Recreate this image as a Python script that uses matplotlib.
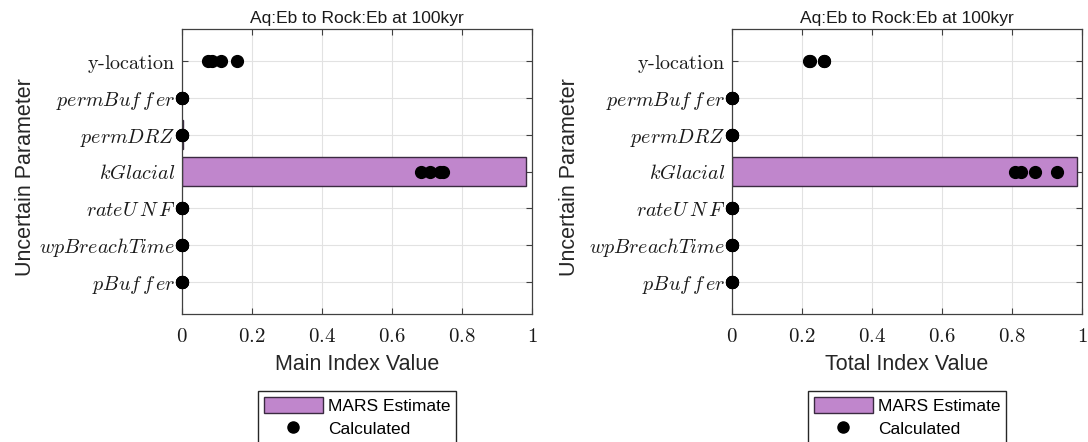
import matplotlib
matplotlib.use("Agg")
import matplotlib.pyplot as plt
from matplotlib.lines import Line2D
from matplotlib.patches import Patch

plt.rcParams["font.family"] = ["Liberation Sans", "DejaVu Sans"]
plt.rcParams["mathtext.fontset"] = "cm"

# parameters, listed top to bottom
params = ["y-location", "permBuffer", "permDRZ", "kGlacial",
          "rateUNF", "wpBreachTime", "pBuffer"]
param_labels = [r"$\mathrm{y\text{-}location}$", r"$permBuf\,f\,er$", r"$permDRZ$",
                r"$kGlacial$", r"$rateU\,N\,F$", r"$wpBreachTime$",
                r"$pBuf\,f\,er$"]

# MARS estimates (bars)
mars_main = [0.0, 0.0, 0.002, 0.982, 0.0, 0.0, 0.0]
mars_total = [0.0, 0.0, 0.0, 0.985, 0.0, 0.0, 0.0]

# calculated indices (dots), four replicates per parameter
calc_main = [
    [0.074, 0.086, 0.111, 0.156],
    [0.0, 0.0, 0.0, 0.0],
    [0.0, 0.0, 0.0, 0.0],
    [0.683, 0.709, 0.737, 0.747],
    [0.0, 0.0, 0.0, 0.0],
    [0.0, 0.0, 0.0, 0.0],
    [0.0, 0.0, 0.0, 0.0],
]
calc_total = [
    [0.221, 0.223, 0.262, 0.264],
    [0.0, 0.0, 0.0, 0.0],
    [0.0, 0.0, 0.0, 0.0],
    [0.808, 0.826, 0.866, 0.929],
    [0.0, 0.0, 0.0, 0.0],
    [0.0, 0.0, 0.0, 0.0],
    [0.0, 0.0, 0.0, 0.0],
]

xticks = [0, 0.2, 0.4, 0.6, 0.8, 1]
title = "Aq:Eb to Rock:Eb at 100kyr"

BAR_COLOR = "#c086cc"
BAR_EDGE = "#3a2a40"
AX_COLOR = "#404040"

W, H = 1088, 442
fig = plt.figure(figsize=(W / 100, H / 100), dpi=100)


def panel(left_px, bars, calc, xlabel, ylabel_x):
    ax = fig.add_axes([left_px / W, 1 - 314 / H, 350 / W, 285 / H])
    ypos = [len(params) - i for i in range(len(params))]
    # zero-length bars get no outline
    widths = [1.0 if v > 0 else 0.0 for v in bars]
    ax.barh(ypos, bars, height=0.8, color=BAR_COLOR, edgecolor=BAR_EDGE,
            linewidth=widths, zorder=2)
    for y, vals in zip(ypos, calc):
        ax.plot(vals, [y] * len(vals), "o", color="black", markersize=8.5,
                zorder=3, clip_on=False)
    ax.set_xlim(0, 1)
    ax.set_ylim(0.12, 7.88)
    ax.set_xticks(xticks, labels=[f"${t:g}$" for t in xticks])
    ax.set_yticks(ypos, labels=param_labels)
    ax.tick_params(axis="both", direction="in", length=4, width=0.8,
                   color=AX_COLOR, top=True, right=True, labelcolor="#1a1a1a")
    ax.tick_params(axis="x", labelsize=15, pad=9)
    ax.tick_params(axis="y", labelsize=14.5, pad=5)
    ax.grid(True, color="#e2e2e2", linewidth=0.8, zorder=0)
    ax.set_axisbelow(True)
    for s in ax.spines.values():
        s.set_color(AX_COLOR)
        s.set_linewidth(0.9)
    ax.set_title(title, fontsize=12.5, pad=4, color="#1a1a1a")
    ax.set_xlabel(xlabel, fontsize=15.5, labelpad=6, color="#262626")
    ax.set_ylabel("Uncertain Parameter", fontsize=15.5, color="#262626")
    ax.yaxis.set_label_coords((ylabel_x - left_px) / 350, 0.48)

    handles = [
        Patch(facecolor=BAR_COLOR, edgecolor=BAR_EDGE, linewidth=1.0),
        Line2D([], [], linestyle="none", marker="o", color="black",
               markersize=8),
    ]
    ax.legend(handles, ["MARS Estimate", "Calculated"], loc="upper center",
              bbox_to_anchor=(0.5, (314 - 391) / 285), borderaxespad=0,
              fontsize=12.5, fancybox=False, framealpha=1,
              edgecolor="#262626", handlelength=3.4, handleheight=1.0,
              handletextpad=0.3, labelspacing=0.35, borderpad=0.35)
    return ax


panel(182, mars_main, calc_main, "Main Index Value", 36)
panel(732, mars_total, calc_total, "Total Index Value", 580)

fig.savefig("out.png", dpi=100)
